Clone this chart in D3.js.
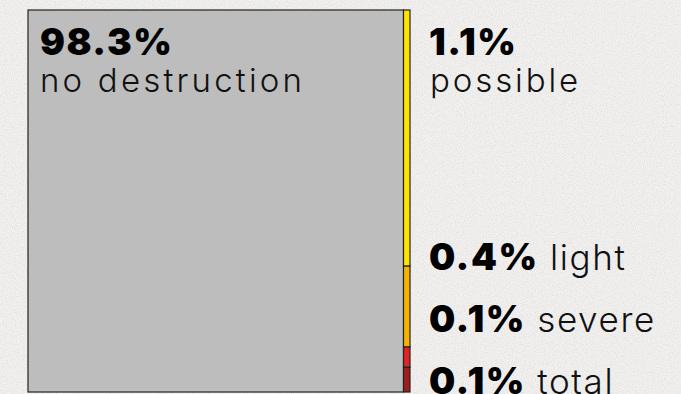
<!DOCTYPE html>
<html>
<head>
<meta charset="utf-8">
<script src="https://cdn.jsdelivr.net/npm/d3@7"></script>
<style>
  html, body { margin: 0; padding: 0; background: #f1f0ef; }
  svg { display: block; }
  .big { font-family: Inter, "Open Sans", sans-serif; font-weight: 900; fill: #000; letter-spacing: 1.5px; }
  .lite { font-family: Inter, "Open Sans", sans-serif; font-weight: 300; fill: #111; }
</style>
</head>
<body>
<svg id="chart" width="681" height="394"></svg>
<script>
// shares in percent
var mainLabel = "no destruction";
var mainValue = 98.3;
var damageLabels = ["possible", "light", "severe", "total"];
var damageValues = [1.14, 0.36, 0.09, 0.11];
var damageColors = ["#ffe400", "#f7b300", "#e22323", "#a21c1c"];

var svg = d3.select("#chart"),
    width = +svg.attr("width"),
    height = +svg.attr("height");

var fmt = d => d.toFixed(1) + "%";

// background speckle
var defs = svg.append("defs");
var f = defs.append("filter").attr("id", "noise");
f.append("feTurbulence").attr("type", "fractalNoise").attr("baseFrequency", 0.9).attr("numOctaves", 2).attr("seed", 3);
f.append("feColorMatrix").attr("type", "matrix")
    .attr("values", "0 0 0 0 0.5  0 0 0 0 0.5  0 0 0 0 0.5  0 0 0 -2.2 1.25");
svg.append("rect").attr("width", width).attr("height", height).attr("fill", "#f1f0ef");
svg.append("rect").attr("width", width).attr("height", height).attr("filter", "url(#noise)").attr("opacity", 0.3);

var total = mainValue + d3.sum(damageValues);
var x = d3.scaleLinear().domain([0, total]).range([28, 410]);
var y = d3.scaleLinear().domain([0, d3.sum(damageValues)]).range([10, 392]);

svg.append("rect")
    .attr("x", x(0)).attr("y", y(0))
    .attr("width", x(mainValue) - x(0))
    .attr("height", y.range()[1] - y.range()[0])
    .attr("fill", "#bdbdbd")
    .attr("stroke", "#222").attr("stroke-width", 1.2);

var cum = 0;
var segs = damageValues.map((v, i) => { var s = { v: v, y0: cum, y1: cum + v, i: i }; cum += v; return s; });

svg.selectAll(".seg").data(segs).enter().append("rect")
    .attr("class", "seg")
    .attr("x", x(mainValue)).attr("y", d => y(d.y0))
    .attr("width", x(total) - x(mainValue))
    .attr("height", d => y(d.y1) - y(d.y0))
    .attr("fill", d => damageColors[d.i])
    .attr("stroke", "#222").attr("stroke-width", 1.2);

// main label
svg.append("text").attr("class", "big").attr("x", 40).attr("y", 55).attr("font-size", 37).text(fmt(mainValue));
svg.append("text").attr("class", "lite").attr("x", 40).attr("y", 92).attr("font-size", 33)
    .attr("letter-spacing", 3.2).text(mainLabel);

// possible: stacked label
svg.append("text").attr("class", "big").attr("x", 429).attr("y", 55).attr("font-size", 37).text(fmt(damageValues[0]));
svg.append("text").attr("class", "lite").attr("x", 430).attr("y", 92).attr("font-size", 33)
    .attr("letter-spacing", 2.9).text(damageLabels[0]);

// the rest: inline labels stacked at the bottom
var baseY = [270, 332, 394];
damageValues.slice(1).forEach(function(v, i) {
    var t = svg.append("text").attr("x", 429).attr("y", baseY[i]).attr("font-size", 37);
    t.append("tspan").attr("class", "big").text(fmt(v));
    t.append("tspan").attr("class", "lite").attr("font-size", 35).attr("letter-spacing", 1.6)
        .text(" " + damageLabels[i + 1]);
});
</script>
</body>
</html>
